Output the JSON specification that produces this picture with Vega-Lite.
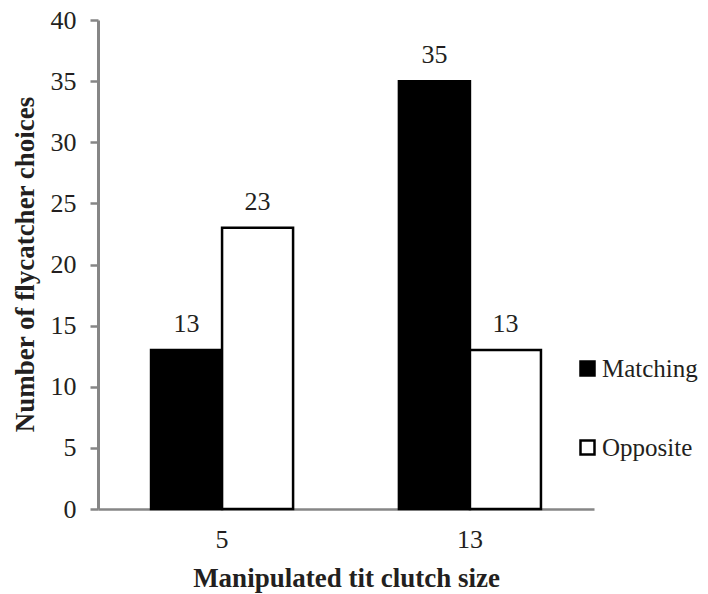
{
  "$schema": "https://vega.github.io/schema/vega-lite/v6.json",
  "autosize": "none",
  "width": 496,
  "height": 489,
  "padding": {"left": 98, "top": 20, "right": 114, "bottom": 85},
  "background": "white",
  "config": {
    "view": {"stroke": null},
    "font": "Times New Roman",
    "text": {"font": "Times New Roman"},
    "axis": {"labelFont": "Times New Roman", "titleFont": "Times New Roman", "labelColor": "#231F20", "titleColor": "#231F20"},
    "legend": {"labelFont": "Times New Roman"}
  },
  "data": {
    "values": [
      {"size": "5", "type": "Matching", "count": 13},
      {"size": "5", "type": "Opposite", "count": 23},
      {"size": "13", "type": "Matching", "count": 35},
      {"size": "13", "type": "Opposite", "count": 13}
    ]
  },
  "encoding": {
    "x": {
      "field": "size", "type": "nominal", "sort": ["5", "13"],
      "scale": {"paddingInner": 0.427, "paddingOuter": 0.214},
      "axis": {
        "title": "Manipulated tit clutch size",
        "titleFontSize": 27, "titleFontWeight": "bold", "titlePadding": 13,
        "labelAngle": 0, "labelFontSize": 26, "labelPadding": 17,
        "ticks": false, "domainColor": "#868686", "domainWidth": 2.5
      }
    },
    "xOffset": {"field": "type", "type": "nominal", "sort": ["Matching", "Opposite"]},
    "y": {
      "field": "count", "type": "quantitative",
      "scale": {"domain": [0, 40], "nice": false},
      "axis": {
        "title": "Number of flycatcher choices",
        "titleFontSize": 27, "titleFontWeight": "bold",
        "titleX": -73, "titleY": 244, "titleBaseline": "middle", "titleAngle": -90,
        "values": [0, 5, 10, 15, 20, 25, 30, 35, 40],
        "labelFontSize": 26, "labelPadding": 14,
        "tickSize": 8, "tickColor": "#868686", "tickWidth": 2.5,
        "domainColor": "#868686", "domainWidth": 3, "grid": false
      }
    }
  },
  "layer": [
    {
      "mark": {"type": "bar", "stroke": "black", "strokeWidth": 2.5},
      "encoding": {
        "fill": {
          "field": "type", "type": "nominal",
          "scale": {"domain": ["Matching", "Opposite"], "range": ["black", "white"]},
          "legend": {
            "title": null, "orient": "none", "legendX": 477, "legendY": 336,
            "symbolType": "square", "symbolSize": 196, "symbolStrokeColor": "black", "symbolStrokeWidth": 2.5,
            "labelFontSize": 25, "labelColor": "#231F20", "labelOffset": 2, "rowPadding": 53, "padding": 0
          }
        }
      }
    },
    {
      "mark": {"type": "text", "fontSize": 26, "baseline": "alphabetic", "dy": -18, "color": "#231F20", "font": "Times New Roman"},
      "encoding": {"text": {"field": "count", "type": "quantitative"}}
    }
  ]
}
